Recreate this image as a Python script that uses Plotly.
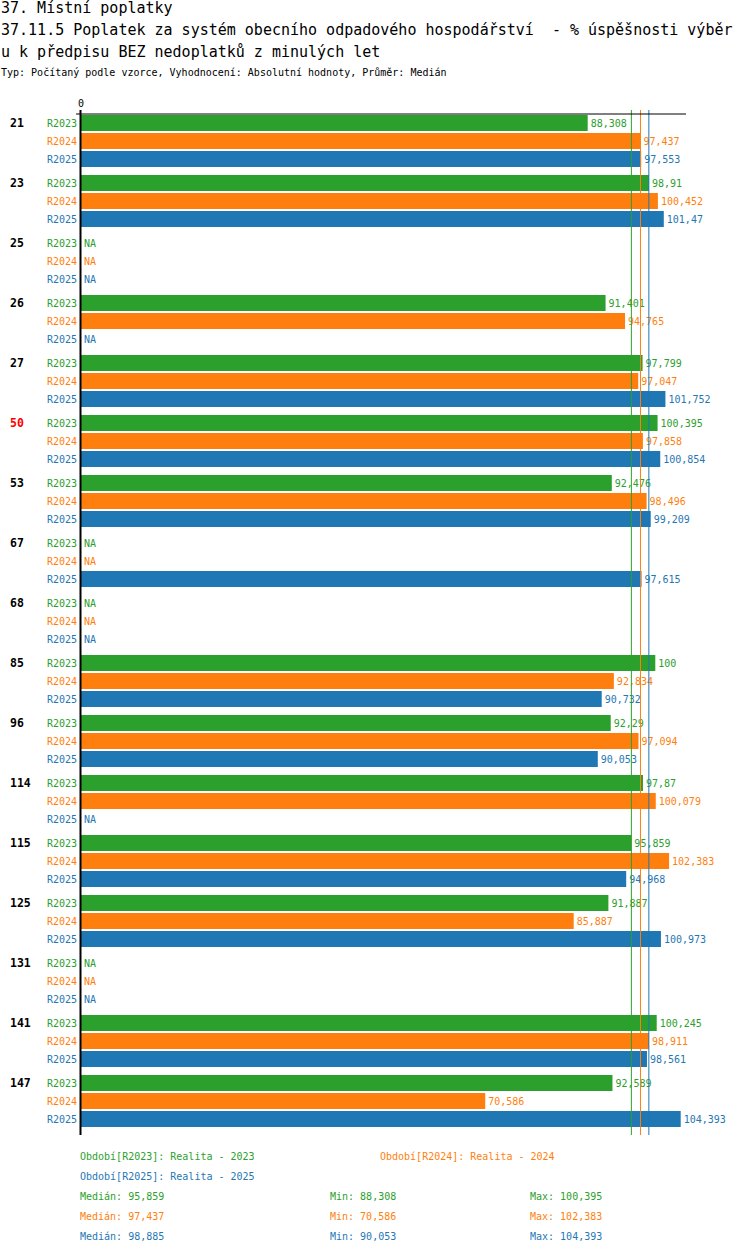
import plotly.graph_objects as go
import numpy as np

categories = ["21", "23", "25", "26", "27", "50", "53", "67", "68", "85", "96",
              "114", "115", "125", "131", "141", "147"]
highlight = ["50"]
series_names = ["R2023", "R2024", "R2025"]
series_desc = ["Realita - 2023", "Realita - 2024", "Realita - 2025"]
r2023 = [88.308, 98.91, None, 91.401, 97.799, 100.395, 92.476, None, None, 100,
         92.29, 97.87, 95.859, 91.887, None, 100.245, 92.589]
r2024 = [97.437, 100.452, None, 94.765, 97.047, 97.858, 98.496, None, None, 92.834,
         97.094, 100.079, 102.383, 85.887, None, 98.911, 70.586]
r2025 = [97.553, 101.47, None, None, 101.752, 100.854, 99.209, 97.615, None, 90.732,
         90.053, None, 94.968, 100.973, None, 98.561, 104.393]
series_values = [r2023, r2024, r2025]
colors = ["#2ca02c", "#ff7f0e", "#1f77b4"]

FONT = "DejaVu Sans Mono"
W, H = 750, 1254
L, R, T, B = 81, 64, 110, 119
PW, PH = W - L - R, H - T - B


def px2x(px):
    return (px - L) / PW


def py2y(py):
    return (H - B - py) / PH


def fmt(v):
    return f"{round(v, 3):g}".replace(".", ",")


fig = go.Figure()
for name, vals, col in zip(series_names, series_values, colors):
    fig.add_trace(go.Bar(
        y=categories, x=vals, orientation="h", name=name,
        marker=dict(color=col, line=dict(width=0)),
        text=[fmt(v) if v is not None else "" for v in vals],
        textposition="outside", cliponaxis=False, constraintext="none",
        textfont=dict(family=FONT, size=10, color=col),
        textangle=0,
    ))

annotations = []
# row labels, group labels, NA markers (category axis -> use serial index)
shifts = [18, 0, -18]
for i, cat in enumerate(categories):
    annotations.append(dict(
        x=px2x(8), xref="paper", y=i, yref="y", yshift=18,
        text=f"<b>{cat}</b>", showarrow=False, xanchor="left", yanchor="middle",
        font=dict(family=FONT, size=11.5, color="#ff0000" if cat in highlight else "#000000")))
    for s, (name, vals, col) in enumerate(zip(series_names, series_values, colors)):
        annotations.append(dict(
            x=px2x(79), xref="paper", y=i, yref="y", yshift=shifts[s],
            text=name, showarrow=False, xanchor="right", yanchor="middle",
            font=dict(family=FONT, size=10, color=col)))
        if vals[i] is None:
            annotations.append(dict(
                x=px2x(82), xref="paper", y=i, yref="y", yshift=shifts[s],
                text="NA", showarrow=False, xanchor="left", yanchor="middle",
                font=dict(family=FONT, size=10, color=col)))

# titles
title_lines = [
    ("37. Místní poplatky", 8, 15),
    ("37.11.5 Poplatek za systém obecního odpadového hospodářství  - % úspěšnosti výběr", 30, 15),
    ("u k předpisu BEZ nedoplatků z minulých let", 52, 15),
    ("Typ: Počítaný podle vzorce, Vyhodnocení: Absolutní hodnoty, Průměr: Medián", 73, 10),
]
for txt, py, sz in title_lines:
    annotations.append(dict(
        x=px2x(-1), xref="paper", y=py2y(py), yref="paper", text=txt.replace("  ", "&nbsp; "),
        showarrow=False, xanchor="left", yanchor="middle",
        font=dict(family=FONT, size=sz, color="#000000")))

# zero label
annotations.append(dict(x=px2x(81), xref="paper", y=py2y(103), yref="paper", text="0",
                        showarrow=False, xanchor="center", yanchor="middle",
                        font=dict(family=FONT, size=10, color="#000000")))

# legend
leg_pos = [(78, 1156), (378, 1156), (78, 1176)]
for (px, py), name, desc, col in zip(leg_pos, series_names, series_desc, colors):
    annotations.append(dict(x=px2x(px), xref="paper", y=py2y(py), yref="paper",
                            text=f"Období[{name}]: {desc}", showarrow=False,
                            xanchor="left", yanchor="middle",
                            font=dict(family=FONT, size=10, color=col)))

medians = []
for s, (vals, col) in enumerate(zip(series_values, colors)):
    arr = np.array([v for v in vals if v is not None])
    med, mn, mx = float(np.median(arr)), float(arr.min()), float(arr.max())
    medians.append(med)
    py = 1196 + 20 * s
    for px, lab, v in [(78, "Medián", med), (328, "Min", mn), (528, "Max", mx)]:
        annotations.append(dict(x=px2x(px), xref="paper", y=py2y(py), yref="paper",
                                text=f"{lab}: {fmt(v)}", showarrow=False,
                                xanchor="left", yanchor="middle",
                                font=dict(family=FONT, size=10, color=col)))

shapes = []
for med, col in zip(medians, colors):
    shapes.append(dict(type="line", xref="x", yref="paper", x0=med, x1=med,
                       y0=0, y1=1, line=dict(color=col, width=1)))
shapes.append(dict(type="line", xref="paper", yref="paper", x0=px2x(80.5), x1=px2x(80.5),
                   y0=0, y1=1, line=dict(color="#000000", width=2)))
shapes.append(dict(type="line", xref="paper", yref="paper", x0=px2x(76), x1=1,
                   y0=py2y(114), y1=py2y(114), line=dict(color="#000000", width=1)))

x0_px = 77.1
scale = 5.782
fig.update_layout(
    width=W, height=H, autosize=False,
    margin=dict(l=L, r=R, t=T, b=B, pad=0),
    paper_bgcolor="white", plot_bgcolor="white",
    barmode="group", bargap=0.1, bargroupgap=0.111,
    showlegend=False,
    xaxis=dict(range=[(L - x0_px) / scale, (W - R - x0_px) / scale],
               showgrid=False, zeroline=False, showticklabels=False, showline=False,
               ticks="", fixedrange=True),
    yaxis=dict(type="category", categoryorder="array", categoryarray=categories,
               range=[16.5 + 4 / 60, -0.5 - 1 / 60],
               showgrid=False, zeroline=False, showticklabels=False, showline=False,
               ticks="", fixedrange=True),
    annotations=annotations, shapes=shapes,
    font=dict(family=FONT),
)

fig.write_html("out.html", config={"displayModeBar": False},
               post_script="document.body.style.margin='0';document.body.style.padding='0';")
